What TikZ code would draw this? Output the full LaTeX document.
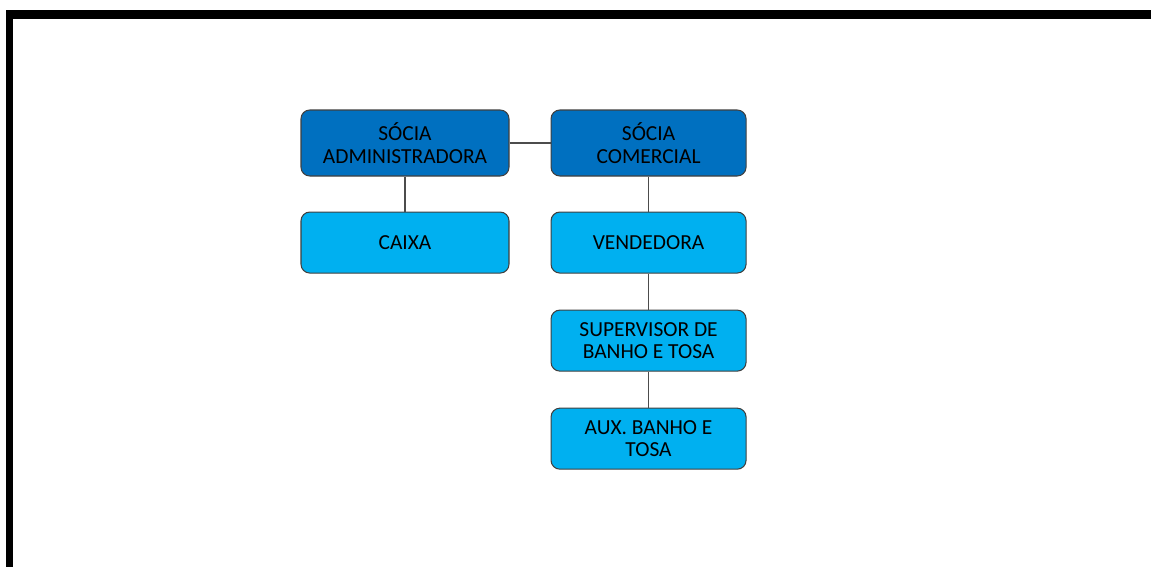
\documentclass[tikz,border=0pt]{standalone}
\usepackage{fontspec}
\setmainfont{Carlito}
\usepackage{xcolor}
\definecolor{socio}{HTML}{0070C0}
\definecolor{equipe}{HTML}{00B0F0}
\definecolor{frame}{HTML}{000000}
\usepackage{tikz}
\usetikzlibrary{positioning}

\begin{document}
\begin{tikzpicture}[node distance=0.7cm]

  \useasboundingbox (0,0) rectangle (23.02,-11.34);
  \fill[white] (0,0) rectangle (23.02,-11.34);

  % moldura
  \fill[frame] (0.12,-0.20) rectangle (23.02,-0.38);
  \fill[frame] (0.12,-0.20) rectangle (0.26,-11.34);

  \tikzset{
    caixa/.style={draw=black!75, rounded corners=5pt, line width=0.6pt,
                  align=center, text=black, inner sep=2pt,
                  font=\fontsize{12.2}{12.8}\selectfont},
    topo/.style={caixa, fill=socio, minimum height=1.32cm},
    base/.style={caixa, fill=equipe, minimum height=1.22cm},
    liga/.style={draw=black!70, line width=0.6pt}
  }

  \node[topo, minimum width=4.16cm] (adm) at (8.1,-2.86)
        {SÓCIA\\ADMINISTRADORA};
  \node[topo, minimum width=3.9cm, right=0.82cm of adm] (com)
        {SÓCIA\\COMERCIAL};

  \node[base, minimum width=4.16cm, below=0.7cm of adm] (caixa)
        {CAIXA};
  \node[base, minimum width=3.9cm, below=0.7cm of com] (vend)
        {VENDEDORA};
  \node[base, minimum width=3.9cm, below=0.72cm of vend] (sup)
        {SUPERVISOR DE\\BANHO E TOSA};
  \node[base, minimum width=3.9cm, below=0.72cm of sup] (aux)
        {AUX. BANHO E\\TOSA};

  \draw[liga] (adm) -- (com);
  \draw[liga] (adm) -- (caixa);
  \draw[liga] (com) -- (vend);
  \draw[liga] (vend) -- (sup);
  \draw[liga] (sup) -- (aux);

\end{tikzpicture}
\end{document}
